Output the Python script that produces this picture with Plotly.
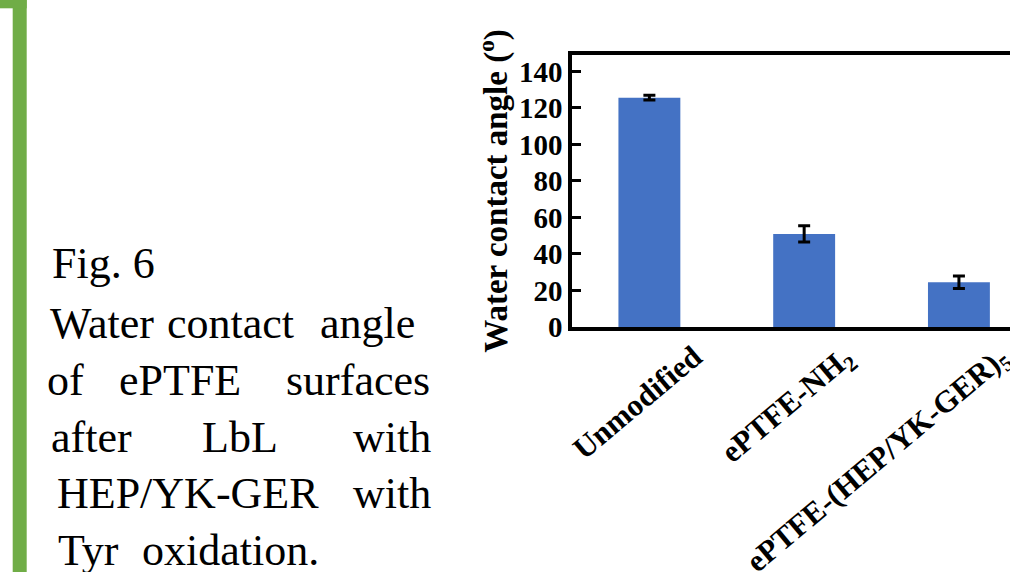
import plotly.graph_objects as go

# ---- data ----
categories = ["Unmodified", "ePTFE-NH2", "ePTFE-(HEP/YK-GER)5"]
category_labels = ["Unmodified", "ePTFE-NH<sub>2</sub>", "ePTFE-(HEP/YK-GER)<sub>5</sub>"]
contact_angle = [125.6, 51.0, 24.5]
contact_angle_err = [1.3, 4.5, 3.4]
y_ticks = [0, 20, 40, 60, 80, 100, 120, 140]

W, H = 1010, 572
L, R, T, B = 572, 0, 55, 245
PW, PH = W - L - R, H - T - B

def px(x):
    return (x - L) / PW

def py(y):
    return (H - B - y) / PH

SERIF = "Liberation Serif, Times New Roman, serif"
BLUE = "#4472C4"
GREEN = "#70AD47"

fig = go.Figure()
fig.add_trace(go.Bar(
    x=categories, y=contact_angle, width=0.4,
    marker=dict(color=BLUE, line=dict(width=0)),
    error_y=dict(type="data", array=contact_angle_err, color="black", thickness=3, width=6),
))

annotations = []
# category labels (rotated, end-anchored)
for c, lab in zip(categories, category_labels):
    annotations.append(dict(
        x=c, xref="x", y=py(336), yref="paper", text=lab, showarrow=False,
        textangle=-40, xanchor="right", yanchor="top", xshift=62,
        font=dict(family=SERIF, size=31, color="black", weight="bold"),
    ))

# caption words: (text, centre x px, baseline y px)
caption = [
    ("Fig. 6", 103, 278),
    ("Water", 101.7, 338), ("contact", 230.8, 338), ("angle", 367.5, 338),
    ("of", 65, 395), ("ePTFE", 179.5, 395), ("surfaces", 357.5, 395),
    ("after", 91.5, 452), ("LbL", 240, 452), ("with", 391.5, 452),
    ("HEP/YK-GER", 187.5, 508), ("with", 391.5, 508),
    ("Tyr", 88, 565), ("oxidation.", 230, 565),
]
CAP = 44
for t, cx, base in caption:
    annotations.append(dict(
        x=px(cx), y=py(base - 0.33 * CAP), xref="paper", yref="paper", text=t,
        showarrow=False, xanchor="center", yanchor="middle",
        font=dict(family=SERIF, size=CAP, color="black", weight="normal"),
    ))

shapes = [
    dict(type="rect", xref="paper", yref="paper", x0=px(12.7), x1=px(26.7), y0=py(572), y1=py(0),
         fillcolor=GREEN, line=dict(width=0), layer="above"),
    dict(type="rect", xref="paper", yref="paper", x0=px(0), x1=px(26.7), y0=py(8.3), y1=py(0),
         fillcolor=GREEN, line=dict(width=0), layer="above"),
]

fig.update_layout(
    width=W, height=H, margin=dict(l=L, r=R, t=T, b=B, pad=0),
    plot_bgcolor="white", paper_bgcolor="white", showlegend=False,
    font=dict(family=SERIF, color="black"),
    bargap=0.6,
    xaxis=dict(type="category", range=[-0.5, 2.33], showticklabels=False, ticks="",
               showline=True, linecolor="black", linewidth=3.5, mirror=True,
               showgrid=False, zeroline=False),
    yaxis=dict(range=[0, 149], tickvals=y_ticks, ticks="inside", ticklen=9, tickwidth=3,
               tickcolor="black", showline=True, linecolor="black", linewidth=3.5,
               showgrid=False, zeroline=False,
               tickfont=dict(family=SERIF, size=29, color="black", weight="bold"),
               title=dict(text="Water contact angle (<sup>o</sup>)", standoff=2,
                          font=dict(family=SERIF, size=33, color="black", weight="bold"))),
    annotations=annotations, shapes=shapes,
)

fig.write_html("out.html", config={"displayModeBar": False},
               post_script="document.body.style.margin='0';document.body.style.overflow='hidden';")
